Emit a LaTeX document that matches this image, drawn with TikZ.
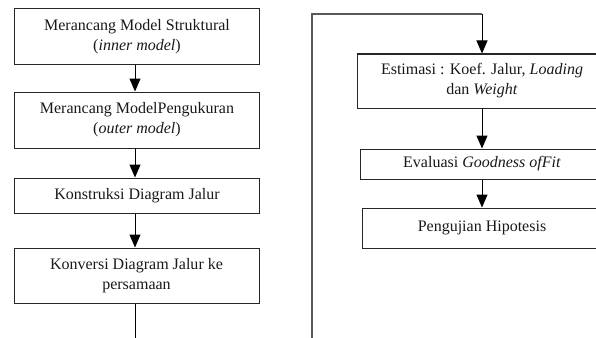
\documentclass[tikz,border=0pt]{standalone}
\usepackage{fontspec}
\setmainfont{Liberation Serif}
\usetikzlibrary{arrows.meta}
\begin{document}
\begin{tikzpicture}[x=1pt,y=1pt,
  box/.style={draw=black!85,line width=1pt,align=center,inner sep=0pt,
    font=\fontsize{16}{20}\selectfont,text=black!90},
  arr/.style={draw=black,line width=1pt,-{Triangle[width=11pt,length=13pt]}},
  loopline/.style={draw=black!65,line width=1.5pt}]
\useasboundingbox (0,0) rectangle (596,-337);
\clip (0,0) rectangle (596,-337);
% left column
\node[box,minimum width=245,minimum height=55] (b1) at (137,-36.5) {Merancang Model Struktural\\(\textit{inner model})};
\node[box,minimum width=245,minimum height=56] (b2) at (137,-120) {Merancang ModelPengukuran\\(\textit{outer model})};
\node[box,minimum width=245,minimum height=35] (b3) at (137,-195.5) {Konstruksi Diagram Jalur};
\node[box,minimum width=245,minimum height=55] (b4) at (136.5,-275.5) {Konversi Diagram Jalur ke\\persamaan};
% right column
\node[box,minimum width=250,minimum height=54] (b5) at (482,-81) {Estimasi : Koef. Jalur, \textit{Loading}\\dan \textit{Weight}};
\node[box,minimum width=244,minimum height=30] (b6) at (482,-164) {Evaluasi \textit{Goodness ofFit}};
\node[box,minimum width=240,minimum height=40] (b7) at (482,-228) {Pengujian Hipotesis};
% connectors
\coordinate (l1) at (135,-340);
\coordinate (r0) at (312,-340);
\coordinate (r1) at (312,-14);
\coordinate (r2) at (482,-14);
\draw[arr] (b1.south -| 135,0) -- (b2.north -| 135,0);
\draw[arr] (b2.south -| 135,0) -- (b3.north -| 135,0);
\draw[arr] (b3.south -| 135,0) -- (b4.north -| 135,0);
\draw[line width=1pt] (b4.south -| l1) -- (l1);
\draw[loopline] (r0) -- (r1) -- (r2);
\draw[arr] (r2) -- (b5.north);
\draw[arr] (b5.south) -- (b6.north);
\draw[arr] (b6.south) -- (b7.north);
\end{tikzpicture}
\end{document}
